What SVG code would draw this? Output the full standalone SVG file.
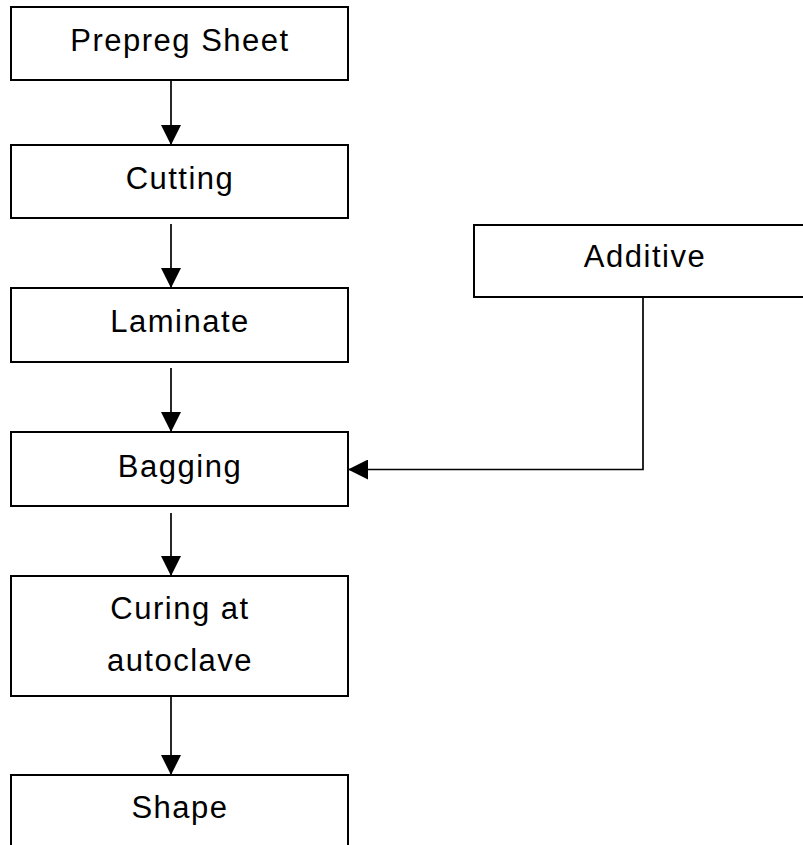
<svg xmlns="http://www.w3.org/2000/svg" width="803" height="845" viewBox="0 0 803 845">
<style>
.box{fill:#fff;stroke:#000;stroke-width:2}
.lbl{font-family:"Liberation Sans",Arial,sans-serif;font-size:31px;letter-spacing:1.5px;fill:#000;text-anchor:middle}
.conn{fill:none;stroke:#000;stroke-width:1.7}
</style>
<defs>
<marker id="ah" markerUnits="userSpaceOnUse" markerWidth="20" markerHeight="20" refX="20" refY="10" orient="auto" viewBox="0 0 20 20">
<path d="M0,0 L20,10 L0,20 Z" fill="#000"/>
</marker>
</defs>
<rect width="803" height="845" fill="#fff"/>
<g id="connectors">
<line class="conn" x1="171" y1="80" x2="171" y2="145" marker-end="url(#ah)"/>
<line class="conn" x1="171" y1="224" x2="171" y2="288" marker-end="url(#ah)"/>
<line class="conn" x1="171" y1="368" x2="171" y2="432" marker-end="url(#ah)"/>
<line class="conn" x1="171" y1="513" x2="171" y2="576" marker-end="url(#ah)"/>
<line class="conn" x1="171" y1="696" x2="171" y2="775" marker-end="url(#ah)"/>
<polyline class="conn" points="643,297 643,469.5 348,469.5" marker-end="url(#ah)"/>
</g>
<g id="prepreg">
<rect class="box" x="11" y="7" width="337" height="73"/>
<text class="lbl" x="180" y="50.5">Prepreg Sheet</text>
</g>
<g id="cutting">
<rect class="box" x="11" y="145" width="337" height="73"/>
<text class="lbl" x="180" y="188.5">Cutting</text>
</g>
<g id="laminate">
<rect class="box" x="11" y="288" width="337" height="74"/>
<text class="lbl" x="180" y="332">Laminate</text>
</g>
<g id="bagging">
<rect class="box" x="11" y="432" width="337" height="74"/>
<text class="lbl" x="180" y="476.5">Bagging</text>
</g>
<g id="curing">
<rect class="box" x="11" y="576" width="337" height="120"/>
<text class="lbl" x="180" y="619">Curing at</text>
<text class="lbl" x="180" y="670.5">autoclave</text>
</g>
<g id="shape">
<rect class="box" x="11" y="775" width="337" height="74"/>
<text class="lbl" x="180" y="817.5">Shape</text>
</g>
<g id="additive">
<rect class="box" x="474" y="225" width="341" height="72"/>
<text class="lbl" x="645" y="267">Additive</text>
</g>
</svg>
